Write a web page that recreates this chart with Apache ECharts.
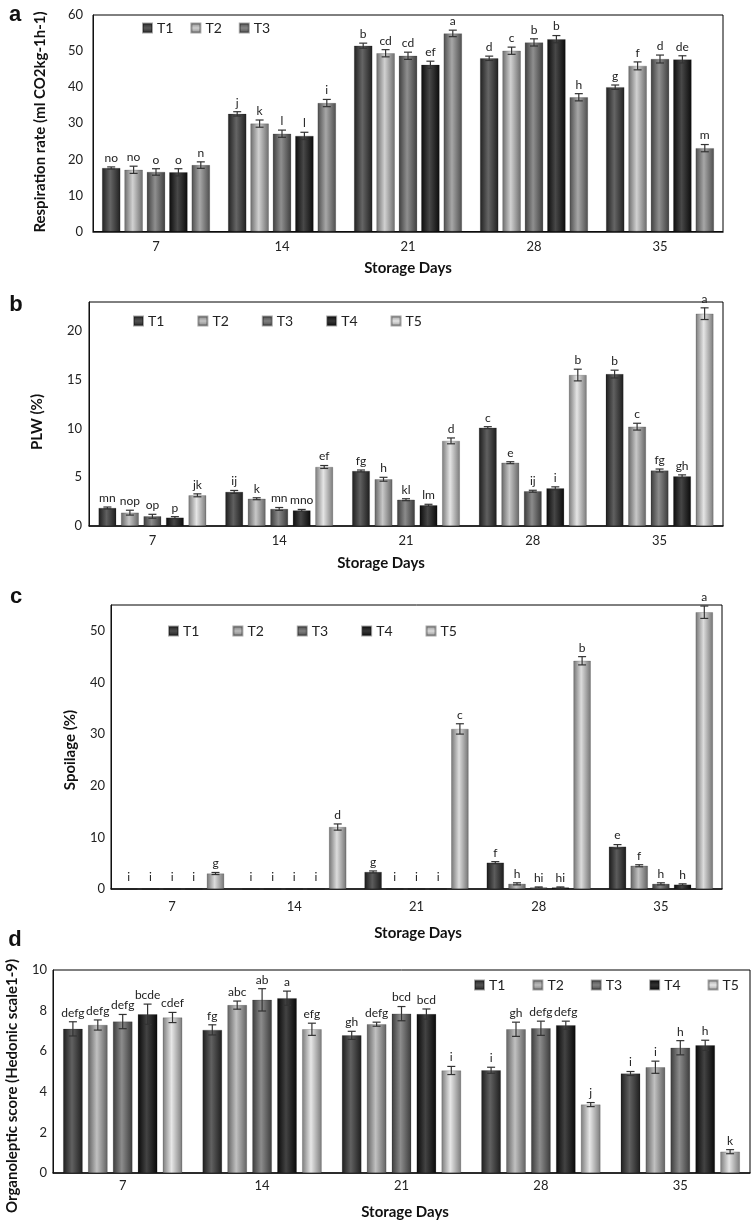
<!DOCTYPE html>
<html>
<head>
<meta charset="utf-8">
<script src="https://cdn.jsdelivr.net/npm/echarts@6/dist/echarts.min.js"></script>
<style>html,body{margin:0;padding:0;background:#fff}#chart{width:751px;height:1223px}</style>
</head>
<body>
<div id="chart"></div>
<script>
// ---------- DATA ----------
const categories = ['7', '14', '21', '28', '35'];
const treatments = ['T1', 'T2', 'T3', 'T4', 'T5'];

// (a) Respiration rate
const respT1 = [17.6, 32.6, 51.5, 48.0, 40.0];
const respT2 = [17.1, 29.9, 49.4, 50.1, 45.9];
const respT3 = [16.5, 27.1, 48.7, 52.4, 47.8];
const respT4 = [16.4, 26.5, 46.2, 53.3, 47.7];
const respT5 = [18.4, 35.6, 54.9, 37.2, 23.1];
const respErrT1 = [0.3, 0.6, 0.7, 0.6, 0.6];
const respErrT2 = [1.0, 1.0, 1.0, 1.0, 1.1];
const respErrT3 = [0.9, 1.0, 1.0, 1.0, 1.1];
const respErrT4 = [1.0, 1.0, 1.0, 1.0, 1.0];
const respErrT5 = [0.9, 1.0, 0.9, 1.0, 1.0];
const respLetT1 = ['no', 'j', 'b', 'd', 'g'];
const respLetT2 = ['no', 'k', 'cd', 'c', 'f'];
const respLetT3 = ['o', 'l', 'cd', 'b', 'd'];
const respLetT4 = ['o', 'l', 'ef', 'b', 'de'];
const respLetT5 = ['n', 'i', 'a', 'h', 'm'];

// (b) PLW
const plwT1 = [1.85, 3.5, 5.65, 10.1, 15.6];
const plwT2 = [1.37, 2.8, 4.8, 6.5, 10.2];
const plwT3 = [1.0, 1.75, 2.7, 3.57, 5.7];
const plwT4 = [0.86, 1.6, 2.13, 3.87, 5.1];
const plwT5 = [3.15, 6.06, 8.74, 15.5, 21.8];
const plwErrT1 = [0.1, 0.15, 0.1, 0.1, 0.4];
const plwErrT2 = [0.25, 0.1, 0.2, 0.1, 0.35];
const plwErrT3 = [0.2, 0.15, 0.1, 0.1, 0.15];
const plwErrT4 = [0.1, 0.1, 0.1, 0.15, 0.15];
const plwErrT5 = [0.15, 0.15, 0.3, 0.6, 0.6];
const plwLetT1 = ['mn', 'ij', 'fg', 'c', 'b'];
const plwLetT2 = ['nop', 'k', 'h', 'e', 'c'];
const plwLetT3 = ['op', 'mn', 'kl', 'ij', 'fg'];
const plwLetT4 = ['p', 'mno', 'lm', 'i', 'gh'];
const plwLetT5 = ['jk', 'ef', 'd', 'b', 'a'];

// (c) Spoilage
const spoT1 = [0, 0, 3.3, 5.1, 8.2];
const spoT2 = [0, 0, 0, 1.0, 4.5];
const spoT3 = [0, 0, 0, 0.3, 1.0];
const spoT4 = [0, 0, 0, 0.3, 0.85];
const spoT5 = [3.0, 12.0, 31.0, 44.2, 53.6];
const spoErrT1 = [0, 0, 0.2, 0.2, 0.4];
const spoErrT2 = [0, 0, 0, 0.2, 0.2];
const spoErrT3 = [0, 0, 0, 0.1, 0.2];
const spoErrT4 = [0, 0, 0, 0.1, 0.15];
const spoErrT5 = [0.2, 0.6, 1.0, 0.8, 1.2];
const spoLetT1 = ['i', 'i', 'g', 'f', 'e'];
const spoLetT2 = ['i', 'i', 'i', 'h', 'f'];
const spoLetT3 = ['i', 'i', 'i', 'hi', 'h'];
const spoLetT4 = ['i', 'i', 'i', 'hi', 'h'];
const spoLetT5 = ['g', 'd', 'c', 'b', 'a'];

// (d) Organoleptic score
const orgT1 = [7.1, 7.05, 6.78, 5.06, 4.9];
const orgT2 = [7.29, 8.27, 7.33, 7.08, 5.21];
const orgT3 = [7.46, 8.53, 7.85, 7.13, 6.17];
const orgT4 = [7.82, 8.61, 7.83, 7.28, 6.29];
const orgT5 = [7.66, 7.08, 5.05, 3.37, 1.05];
const orgErrT1 = [0.35, 0.25, 0.2, 0.15, 0.1];
const orgErrT2 = [0.25, 0.2, 0.1, 0.35, 0.3];
const orgErrT3 = [0.35, 0.55, 0.35, 0.35, 0.35];
const orgErrT4 = [0.5, 0.35, 0.25, 0.2, 0.25];
const orgErrT5 = [0.25, 0.3, 0.2, 0.1, 0.1];
const orgLetT1 = ['defg', 'fg', 'gh', 'i', 'i'];
const orgLetT2 = ['defg', 'abc', 'defg', 'gh', 'i'];
const orgLetT3 = ['defg', 'ab', 'bcd', 'defg', 'h'];
const orgLetT4 = ['bcde', 'a', 'bcd', 'defg', 'h'];
const orgLetT5 = ['cdef', 'efg', 'i', 'j', 'k'];

// ---------- STYLE ----------
const FONT = 'Lato, "Open Sans", sans-serif';
function mix(hex, target, f) {
  const n = parseInt(hex.slice(1), 16);
  const r = (n >> 16) & 255, g = (n >> 8) & 255, b = n & 255;
  const m = c => Math.round(c + (target - c) * f);
  return 'rgb(' + m(r) + ',' + m(g) + ',' + m(b) + ')';
}
function grad(base) {
  return new echarts.graphic.LinearGradient(0, 0, 1, 0, [
    { offset: 0, color: mix(base, 0, 0.45) },
    { offset: 0.45, color: mix(base, 255, 0.22) },
    { offset: 1, color: mix(base, 0, 0.45) }
  ]);
}
function legGrad(base) {
  return new echarts.graphic.LinearGradient(0, 0, 0, 1, [
    { offset: 0, color: mix(base, 0, 0.3) },
    { offset: 0.5, color: mix(base, 255, 0.15) },
    { offset: 1, color: mix(base, 0, 0.3) }
  ]);
}

const panels = [
  { vals: [respT1, respT2, respT3, respT4, respT5], errs: [respErrT1, respErrT2, respErrT3, respErrT4, respErrT5],
    lets: [respLetT1, respLetT2, respLetT3, respLetT4, respLetT5],
    colors: ['#3a3a3a', '#c4c4c4', '#707070', '#141414', '#8e8e8e'],
    grid: { left: 93, top: 15, right: 28, height: 216.5 }, max: 60, interval: 10,
    bw: 18.3, step: 22.4, xMargin: 9, yMargin: 10,
    legend: { names: ['T1', 'T2', 'T3'], left: 137, top: 16, gap: 17 } },
  { vals: [plwT1, plwT2, plwT3, plwT4, plwT5], errs: [plwErrT1, plwErrT2, plwErrT3, plwErrT4, plwErrT5],
    lets: [plwLetT1, plwLetT2, plwLetT3, plwLetT4, plwLetT5],
    colors: ['#333333', '#b8b8b8', '#6a6a6a', '#121212', '#dedede'],
    grid: { left: 89, top: 302, right: 28, height: 224 }, max: 23, interval: 5,
    bw: 17.7, step: 22.5, xMargin: 8, yMargin: 7,
    legend: { names: ['T1', 'T2', 'T3', 'T4', 'T5'], left: 128, top: 309, gap: 33 } },
  { vals: [spoT1, spoT2, spoT3, spoT4, spoT5], errs: [spoErrT1, spoErrT2, spoErrT3, spoErrT4, spoErrT5],
    lets: [spoLetT1, spoLetT2, spoLetT3, spoLetT4, spoLetT5],
    colors: ['#2e2e2e', '#b0b0b0', '#686868', '#121212', '#d2d2d2'],
    grid: { left: 111, top: 605, right: 29, height: 284 }, max: 55, interval: 10,
    bw: 17.3, step: 21.7, xMargin: 11, yMargin: 6,
    legend: { names: ['T1', 'T2', 'T3', 'T4', 'T5'], left: 163, top: 619, gap: 33 } },
  { vals: [orgT1, orgT2, orgT3, orgT4, orgT5], errs: [orgErrT1, orgErrT2, orgErrT3, orgErrT4, orgErrT5],
    lets: [orgLetT1, orgLetT2, orgLetT3, orgLetT4, orgLetT5],
    colors: ['#353535', '#b0b0b0', '#6b6b6b', '#0e0e0e', '#e0e0e0'],
    grid: { left: 53, top: 970, right: 1, height: 203 }, max: 10, interval: 2,
    bw: 19.5, step: 24.9, xMargin: 6, yMargin: 6,
    legend: { names: ['T1', 'T2', 'T3', 'T4', 'T5'], left: 469, top: 973, gap: 27 } }
];

const grids = [], xAxes = [], yAxes = [], series = [], legends = [];
panels.forEach((p, pi) => {
  grids.push(Object.assign({ show: true, borderColor: '#000', borderWidth: 1, backgroundColor: 'transparent' }, p.grid));
  xAxes.push({ type: 'category', gridIndex: pi, data: categories,
    axisLine: { lineStyle: { color: '#111', width: 1.5 } }, axisTick: { show: false },
    axisLabel: { color: '#222', fontSize: 13, fontFamily: FONT, margin: p.xMargin } });
  yAxes.push({ type: 'value', gridIndex: pi, min: 0, max: p.max, interval: p.interval,
    axisLine: { show: true, lineStyle: { color: '#111', width: 1 } }, axisTick: { show: false },
    splitLine: { show: false },
    axisLabel: { color: '#222', fontSize: 13, fontFamily: FONT, margin: p.yMargin, showMaxLabel: p.max % p.interval === 0 } });
  const gapPct = ((p.step / p.bw - 1) * 100).toFixed(1) + '%';
  treatments.forEach((t, ti) => {
    series.push({ type: 'bar', name: t, xAxisIndex: pi, yAxisIndex: pi, data: p.vals[ti],
      barWidth: p.bw, barGap: gapPct, silent: true,
      itemStyle: { color: grad(p.colors[ti]), borderColor: 'rgba(0,0,0,0.35)', borderWidth: 0.5 } });
  });
  const data = [], txt = [];
  for (let ti = 0; ti < 5; ti++) for (let ci = 0; ci < 5; ci++) {
    data.push([ci, ti, p.vals[ti][ci], p.errs[ti][ci]]);
    txt.push(p.lets[ti][ci]);
  }
  const step = p.step;
  series.push({ type: 'custom', xAxisIndex: pi, yAxisIndex: pi, z: 10, silent: true, data: data,
    encode: { x: 0, y: 2 },
    renderItem: function (params, api) {
      const ci = api.value(0), ti = api.value(1), v = api.value(2), e = api.value(3);
      const x = api.coord([ci, v])[0] + (ti - 2) * step;
      const hi = api.coord([ci, v + e])[1], lo = api.coord([ci, Math.max(0, v - e)])[1];
      const children = [];
      const ls = { stroke: '#333', lineWidth: 1.2 };
      if (e > 0) {
        children.push({ type: 'line', shape: { x1: x, y1: hi, x2: x, y2: lo }, style: ls });
        children.push({ type: 'line', shape: { x1: x - 4, y1: hi, x2: x + 4, y2: hi }, style: ls });
        children.push({ type: 'line', shape: { x1: x - 4, y1: lo, x2: x + 4, y2: lo }, style: ls });
      }
      children.push({ type: 'text', style: { text: txt[params.dataIndex], x: x, y: hi - (e > 0 ? 3 : 6),
        align: 'center', verticalAlign: 'bottom', fill: '#222', font: '12px ' + FONT } });
      return { type: 'group', children: children };
    } });
  legends.push({ left: p.legend.left, top: p.legend.top, itemWidth: 9, itemHeight: 9, itemGap: p.legend.gap,
    icon: 'rect', selectedMode: false,
    textStyle: { fontSize: 14, fontFamily: FONT, color: '#222' },
    data: p.legend.names.map(n => ({ name: n, itemStyle: { color: legGrad(p.colors[treatments.indexOf(n)]) } })) });
});

function txtEl(text, x, y, size, rot, family) {
  return { type: 'text', x: x, y: y, rotation: rot || 0,
    style: { text: text, fill: '#111', font: 'bold ' + size + 'px ' + (family || FONT), align: 'center', verticalAlign: 'middle' } };
}
const graphics = [
  txtEl('a', 15, 15, 22, 0, '"Liberation Sans", Arial, sans-serif'),
  txtEl('b', 16, 305, 22, 0, '"Liberation Sans", Arial, sans-serif'),
  txtEl('c', 16, 597, 22, 0, '"Liberation Sans", Arial, sans-serif'),
  txtEl('d', 15, 940, 22, 0, '"Liberation Sans", Arial, sans-serif'),
  txtEl('Respiration rate (ml CO2kg-1h-1)', 40, 122, 15, Math.PI / 2),
  txtEl('PLW (%)', 37, 422, 15, Math.PI / 2),
  txtEl('Spoilage (%)', 70, 750, 15, Math.PI / 2),
  txtEl('Organoleptic score (Hedonic scale1-9)', 12, 1086, 15, Math.PI / 2),
  txtEl('Storage Days', 408, 268, 15),
  txtEl('Storage Days', 381, 563, 15),
  txtEl('Storage Days', 418, 933, 15),
  txtEl('Storage Days', 405, 1212, 15)
];

const chart = echarts.init(document.getElementById('chart'), null, { renderer: 'canvas' });
chart.setOption({
  animation: false,
  backgroundColor: '#fff',
  grid: grids, xAxis: xAxes, yAxis: yAxes, legend: legends, series: series,
  graphic: graphics
});
</script>
</body>
</html>
